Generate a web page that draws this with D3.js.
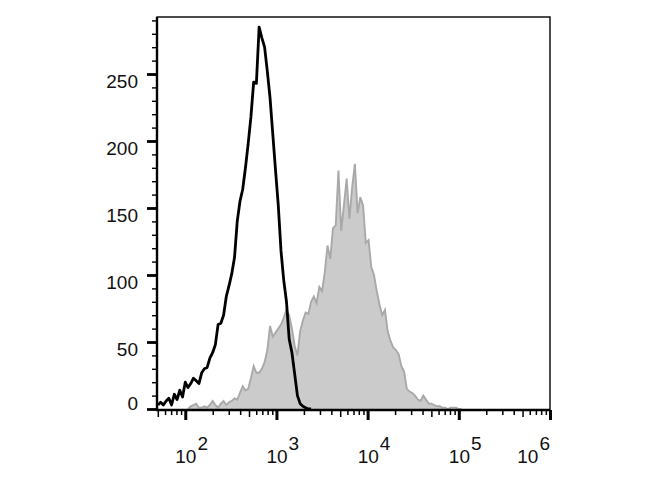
<!DOCTYPE html>
<html>
  <head>
    <meta charset="utf-8">
    <script src="https://cdn.jsdelivr.net/npm/d3@7"></script>
    <style>
      body { margin: 0; background: #fff; }
      text { font-family: "Liberation Sans", Arial, sans-serif; fill: #111; }
    </style>
  </head>
  <body>
    <svg width="670" height="500"></svg>
    <script>
      // histogram bins are evenly spaced in log10 of the channel value
      const binStep = 0.03

      // isotype control (black outline)
      const ctrlLogStart = 1.70
      const ctrlCounts = [
        3, 5, 3, 6, 8, 3, 11, 7, 14, 9,
        20, 16, 19, 23, 21, 19, 27, 30, 31, 38,
        42, 48, 63, 64, 70, 84, 92, 101, 113, 140,
        155, 164, 180, 198, 218, 244, 243, 285, 277, 270,
        252, 232, 205, 178, 152, 118, 96, 80, 52, 42,
        26, 10, 4, 2, 1, 0, 0
      ]

      // stained sample (grey filled)
      const sampleLogStart = 2.03
      const sampleCounts = [
        0, 2, 3, 4, 1, 1, 2, 1, 3, 6,
        3, 1, 4, 6, 3, 5, 6, 8, 7, 12,
        17, 14, 15, 23, 32, 27, 27, 30, 35, 44,
        62, 54, 57, 60, 63, 68, 74, 70, 60, 47,
        40, 58, 66, 72, 71, 80, 84, 79, 91, 88,
        102, 122, 112, 135, 137, 178, 133, 152, 172, 142,
        165, 183, 146, 158, 152, 124, 126, 106, 100, 88,
        78, 70, 74, 58, 51, 46, 44, 41, 32, 28,
        15, 13, 12, 10, 7, 6, 10, 7, 4, 4,
        3, 2, 2, 1, 1, 0, 1, 1, 1, 0, 0
      ]

      const yMajor = [0, 50, 100, 150, 200, 250]
      const yMinor = d3.range(0, 300, 10)
      const xDecades = [2, 3, 4, 5, 6]

      const svg = d3.select('svg')
      const plotL = 157, plotR = 550, plotT = 17, plotB = 410

      const x = d3.scaleLog().domain([Math.pow(10, 1.69), 1e6]).range([plotL, plotR])
      const y = d3.scaleLinear().domain([0, 250]).range([409, 74])

      const toPoints = (start, counts) =>
        counts.map((c, i) => ({ v: Math.pow(10, start + binStep * i), c }))

      const ctrl = toPoints(ctrlLogStart, ctrlCounts)
      const sample = toPoints(sampleLogStart, sampleCounts)

      svg.append('clipPath').attr('id', 'plot')
        .append('rect')
        .attr('x', plotL).attr('y', plotT)
        .attr('width', plotR - plotL).attr('height', plotB - plotT)

      const g = svg.append('g').attr('clip-path', 'url(#plot)')

      const area = d3.area()
        .x((d) => x(d.v))
        .y0(y(0))
        .y1((d) => y(d.c))
      const line = d3.line()
        .x((d) => x(d.v))
        .y((d) => y(d.c))

      g.append('path')
        .datum(sample)
        .attr('d', area)
        .attr('fill', '#cbcbcb')
      g.append('path')
        .datum(sample)
        .attr('d', line)
        .attr('fill', 'none')
        .attr('stroke', '#a9a9a9')
        .attr('stroke-width', 1.9)

      g.append('path')
        .datum(ctrl)
        .attr('d', line)
        .attr('fill', 'none')
        .attr('stroke', '#000')
        .attr('stroke-width', 2.8)
        .attr('stroke-linejoin', 'round')

      // frame
      svg.append('rect')
        .attr('x', plotL).attr('y', plotT)
        .attr('width', plotR - plotL).attr('height', plotB - plotT)
        .attr('fill', 'none')
        .attr('stroke', '#000')
        .attr('stroke-width', 1.4)

      // y axis: minor + major ticks
      const yMinorAxis = svg.append('g')
        .attr('transform', `translate(${plotL},0)`)
        .call(d3.axisLeft(y).tickValues(yMinor).tickSize(5).tickFormat(''))
      const yMajorAxis = svg.append('g')
        .attr('transform', `translate(${plotL},0)`)
        .call(d3.axisLeft(y).tickValues(yMajor).tickSize(10).tickFormat(''))
      yMinorAxis.selectAll('line').attr('stroke-width', 1.4)
      yMajorAxis.selectAll('line').attr('stroke-width', 2.8)
      svg.selectAll('.domain').remove()
      svg.append('line')
        .attr('x1', plotL).attr('x2', plotL)
        .attr('y1', plotT).attr('y2', plotB + 1)
        .attr('stroke', '#000').attr('stroke-width', 2.4)

      svg.append('g')
        .selectAll('text')
        .data(yMajor)
        .enter()
        .append('text')
        .attr('x', 138)
        .attr('y', (d) => (d === 0 ? y(d) + 1 : y(d) + 14))
        .attr('text-anchor', 'end')
        .attr('font-size', 19)
        .text((d) => d)

      // x axis: log ticks
      const minorVals = x.ticks().filter((v) => {
        const m = v / Math.pow(10, Math.floor(Math.log10(v) + 1e-9))
        return Math.abs(m - 1) > 1e-6
      })
      const xMinorAxis = svg.append('g')
        .attr('transform', `translate(0,${plotB})`)
        .call(d3.axisBottom(x).tickValues(minorVals).tickSize(5).tickFormat(''))
      xMinorAxis.selectAll('.tick line')
        .attr('y2', (d) => {
          const m = Math.round(d / Math.pow(10, Math.floor(Math.log10(d) + 1e-9)))
          return m === 5 ? 7 : 5
        })
        .attr('stroke-width', 1.5)
      const xMajorAxis = svg.append('g')
        .attr('transform', `translate(0,${plotB})`)
        .call(d3.axisBottom(x).tickValues(xDecades.map((p) => Math.pow(10, p))).tickSize(10).tickFormat(''))
      xMajorAxis.selectAll('line').attr('stroke-width', 3)
      svg.selectAll('.domain').remove()
      svg.append('line')
        .attr('x1', plotL - 1).attr('x2', plotR)
        .attr('y1', plotB).attr('y2', plotB)
        .attr('stroke', '#000').attr('stroke-width', 2.4)

      const xLabels = svg.append('g')
        .selectAll('text')
        .data(xDecades)
        .enter()
        .append('text')
        .attr('font-size', 19)
        .attr('y', 463)
        .attr('x', (d, i) => (i === xDecades.length - 1 ? plotR : x(Math.pow(10, d)) - 10))
        .attr('text-anchor', (d, i) => (i === xDecades.length - 1 ? 'end' : 'start'))
      xLabels.append('tspan').text('10')
      xLabels.append('tspan').attr('dy', -13).attr('dx', 1).text((d) => d)
    </script>
  </body>
</html>
